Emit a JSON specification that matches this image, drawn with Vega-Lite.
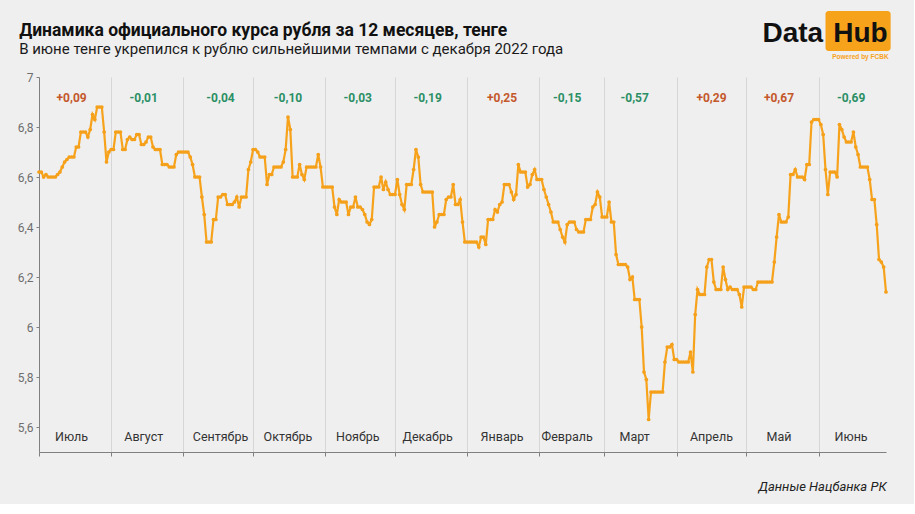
{
  "$schema": "https://vega.github.io/schema/vega-lite/v6.json",
  "width": 847,
  "height": 375,
  "padding": {"left": 17, "top": 10, "right": 23, "bottom": 10},
  "background": "#efefef",
  "title": {
    "text": "Динамика официального курса рубля за 12 месяцев, тенге",
    "subtitle": "В июне тенге укрепился к рублю сильнейшими темпами с декабря 2022 года",
    "anchor": "start",
    "frame": "bounds",
    "dx": 2,
    "dy": 46,
    "offset": 0,
    "font": "Roboto",
    "fontSize": 17.5,
    "fontWeight": "bold",
    "color": "#111111",
    "subtitleFont": "Roboto",
    "subtitleFontSize": 15,
    "subtitleColor": "#1a1a1a",
    "subtitlePadding": 3
  },
  "datasets": {
    "rate": [
      {"d": "2025-07-01", "v": 6.62}, {"d": "2025-07-02", "v": 6.62}, {"d": "2025-07-03", "v": 6.60}, {"d": "2025-07-04", "v": 6.61},
      {"d": "2025-07-05", "v": 6.60}, {"d": "2025-07-06", "v": 6.60}, {"d": "2025-07-07", "v": 6.60}, {"d": "2025-07-08", "v": 6.60},
      {"d": "2025-07-09", "v": 6.61}, {"d": "2025-07-10", "v": 6.62}, {"d": "2025-07-11", "v": 6.64}, {"d": "2025-07-12", "v": 6.66},
      {"d": "2025-07-13", "v": 6.67}, {"d": "2025-07-14", "v": 6.68}, {"d": "2025-07-15", "v": 6.68}, {"d": "2025-07-16", "v": 6.68},
      {"d": "2025-07-17", "v": 6.72}, {"d": "2025-07-18", "v": 6.72}, {"d": "2025-07-19", "v": 6.78}, {"d": "2025-07-20", "v": 6.78},
      {"d": "2025-07-21", "v": 6.78}, {"d": "2025-07-22", "v": 6.76}, {"d": "2025-07-23", "v": 6.79}, {"d": "2025-07-24", "v": 6.85},
      {"d": "2025-07-25", "v": 6.83}, {"d": "2025-07-26", "v": 6.88}, {"d": "2025-07-27", "v": 6.88}, {"d": "2025-07-28", "v": 6.88},
      {"d": "2025-07-29", "v": 6.78}, {"d": "2025-07-30", "v": 6.66}, {"d": "2025-07-31", "v": 6.70},
      {"d": "2025-08-01", "v": 6.71}, {"d": "2025-08-02", "v": 6.71}, {"d": "2025-08-03", "v": 6.78}, {"d": "2025-08-04", "v": 6.78},
      {"d": "2025-08-05", "v": 6.78}, {"d": "2025-08-06", "v": 6.71}, {"d": "2025-08-07", "v": 6.71}, {"d": "2025-08-08", "v": 6.75},
      {"d": "2025-08-09", "v": 6.76}, {"d": "2025-08-10", "v": 6.75}, {"d": "2025-08-11", "v": 6.75}, {"d": "2025-08-12", "v": 6.77},
      {"d": "2025-08-13", "v": 6.77}, {"d": "2025-08-14", "v": 6.73}, {"d": "2025-08-15", "v": 6.73}, {"d": "2025-08-16", "v": 6.74},
      {"d": "2025-08-17", "v": 6.76}, {"d": "2025-08-18", "v": 6.76}, {"d": "2025-08-19", "v": 6.72}, {"d": "2025-08-20", "v": 6.71},
      {"d": "2025-08-21", "v": 6.71}, {"d": "2025-08-22", "v": 6.71}, {"d": "2025-08-23", "v": 6.65}, {"d": "2025-08-24", "v": 6.65},
      {"d": "2025-08-25", "v": 6.65}, {"d": "2025-08-26", "v": 6.64}, {"d": "2025-08-27", "v": 6.64}, {"d": "2025-08-28", "v": 6.64},
      {"d": "2025-08-29", "v": 6.69}, {"d": "2025-08-30", "v": 6.70}, {"d": "2025-08-31", "v": 6.70},
      {"d": "2025-09-01", "v": 6.70}, {"d": "2025-09-02", "v": 6.70}, {"d": "2025-09-03", "v": 6.70}, {"d": "2025-09-04", "v": 6.68},
      {"d": "2025-09-05", "v": 6.65}, {"d": "2025-09-06", "v": 6.60}, {"d": "2025-09-07", "v": 6.60}, {"d": "2025-09-08", "v": 6.60},
      {"d": "2025-09-09", "v": 6.52}, {"d": "2025-09-10", "v": 6.45}, {"d": "2025-09-11", "v": 6.34}, {"d": "2025-09-12", "v": 6.34},
      {"d": "2025-09-13", "v": 6.34}, {"d": "2025-09-14", "v": 6.43}, {"d": "2025-09-15", "v": 6.43}, {"d": "2025-09-16", "v": 6.52},
      {"d": "2025-09-17", "v": 6.52}, {"d": "2025-09-18", "v": 6.53}, {"d": "2025-09-19", "v": 6.53}, {"d": "2025-09-20", "v": 6.49},
      {"d": "2025-09-21", "v": 6.49}, {"d": "2025-09-22", "v": 6.49}, {"d": "2025-09-23", "v": 6.50}, {"d": "2025-09-24", "v": 6.52},
      {"d": "2025-09-25", "v": 6.48}, {"d": "2025-09-26", "v": 6.52}, {"d": "2025-09-27", "v": 6.52}, {"d": "2025-09-28", "v": 6.52},
      {"d": "2025-09-29", "v": 6.63}, {"d": "2025-09-30", "v": 6.66},
      {"d": "2025-10-01", "v": 6.71}, {"d": "2025-10-02", "v": 6.71}, {"d": "2025-10-03", "v": 6.70}, {"d": "2025-10-04", "v": 6.68},
      {"d": "2025-10-05", "v": 6.68}, {"d": "2025-10-06", "v": 6.68}, {"d": "2025-10-07", "v": 6.57}, {"d": "2025-10-08", "v": 6.61},
      {"d": "2025-10-09", "v": 6.61}, {"d": "2025-10-10", "v": 6.64}, {"d": "2025-10-11", "v": 6.64}, {"d": "2025-10-12", "v": 6.64},
      {"d": "2025-10-13", "v": 6.64}, {"d": "2025-10-14", "v": 6.66}, {"d": "2025-10-15", "v": 6.71}, {"d": "2025-10-16", "v": 6.84},
      {"d": "2025-10-17", "v": 6.79}, {"d": "2025-10-18", "v": 6.60}, {"d": "2025-10-19", "v": 6.60}, {"d": "2025-10-20", "v": 6.60},
      {"d": "2025-10-21", "v": 6.65}, {"d": "2025-10-22", "v": 6.61}, {"d": "2025-10-23", "v": 6.59}, {"d": "2025-10-24", "v": 6.64},
      {"d": "2025-10-25", "v": 6.64}, {"d": "2025-10-26", "v": 6.64}, {"d": "2025-10-27", "v": 6.64}, {"d": "2025-10-28", "v": 6.64},
      {"d": "2025-10-29", "v": 6.69}, {"d": "2025-10-30", "v": 6.64}, {"d": "2025-10-31", "v": 6.56},
      {"d": "2025-11-01", "v": 6.56}, {"d": "2025-11-02", "v": 6.56}, {"d": "2025-11-03", "v": 6.56}, {"d": "2025-11-04", "v": 6.56},
      {"d": "2025-11-05", "v": 6.48}, {"d": "2025-11-06", "v": 6.45}, {"d": "2025-11-07", "v": 6.51}, {"d": "2025-11-08", "v": 6.50},
      {"d": "2025-11-09", "v": 6.50}, {"d": "2025-11-10", "v": 6.50}, {"d": "2025-11-11", "v": 6.45}, {"d": "2025-11-12", "v": 6.48},
      {"d": "2025-11-13", "v": 6.48}, {"d": "2025-11-14", "v": 6.52}, {"d": "2025-11-15", "v": 6.48}, {"d": "2025-11-16", "v": 6.48},
      {"d": "2025-11-17", "v": 6.47}, {"d": "2025-11-18", "v": 6.45}, {"d": "2025-11-19", "v": 6.42}, {"d": "2025-11-20", "v": 6.41},
      {"d": "2025-11-21", "v": 6.43}, {"d": "2025-11-22", "v": 6.56}, {"d": "2025-11-23", "v": 6.56}, {"d": "2025-11-24", "v": 6.56},
      {"d": "2025-11-25", "v": 6.60}, {"d": "2025-11-26", "v": 6.55}, {"d": "2025-11-27", "v": 6.58}, {"d": "2025-11-28", "v": 6.55},
      {"d": "2025-11-29", "v": 6.53}, {"d": "2025-11-30", "v": 6.53},
      {"d": "2025-12-01", "v": 6.53}, {"d": "2025-12-02", "v": 6.59}, {"d": "2025-12-03", "v": 6.53}, {"d": "2025-12-04", "v": 6.49},
      {"d": "2025-12-05", "v": 6.47}, {"d": "2025-12-06", "v": 6.57}, {"d": "2025-12-07", "v": 6.57}, {"d": "2025-12-08", "v": 6.57},
      {"d": "2025-12-09", "v": 6.63}, {"d": "2025-12-10", "v": 6.71}, {"d": "2025-12-11", "v": 6.68}, {"d": "2025-12-12", "v": 6.57},
      {"d": "2025-12-13", "v": 6.54}, {"d": "2025-12-14", "v": 6.54}, {"d": "2025-12-15", "v": 6.54}, {"d": "2025-12-16", "v": 6.54},
      {"d": "2025-12-17", "v": 6.54}, {"d": "2025-12-18", "v": 6.40}, {"d": "2025-12-19", "v": 6.42}, {"d": "2025-12-20", "v": 6.45},
      {"d": "2025-12-21", "v": 6.45}, {"d": "2025-12-22", "v": 6.45}, {"d": "2025-12-23", "v": 6.51}, {"d": "2025-12-24", "v": 6.52},
      {"d": "2025-12-25", "v": 6.52}, {"d": "2025-12-26", "v": 6.57}, {"d": "2025-12-27", "v": 6.49}, {"d": "2025-12-28", "v": 6.49},
      {"d": "2025-12-29", "v": 6.51}, {"d": "2025-12-30", "v": 6.42}, {"d": "2025-12-31", "v": 6.34},
      {"d": "2026-01-01", "v": 6.34}, {"d": "2026-01-02", "v": 6.34}, {"d": "2026-01-03", "v": 6.34}, {"d": "2026-01-04", "v": 6.34},
      {"d": "2026-01-05", "v": 6.34}, {"d": "2026-01-06", "v": 6.32}, {"d": "2026-01-07", "v": 6.36}, {"d": "2026-01-08", "v": 6.36},
      {"d": "2026-01-09", "v": 6.33}, {"d": "2026-01-10", "v": 6.43}, {"d": "2026-01-11", "v": 6.43}, {"d": "2026-01-12", "v": 6.43},
      {"d": "2026-01-13", "v": 6.47}, {"d": "2026-01-14", "v": 6.46}, {"d": "2026-01-15", "v": 6.49}, {"d": "2026-01-16", "v": 6.50},
      {"d": "2026-01-17", "v": 6.57}, {"d": "2026-01-18", "v": 6.57}, {"d": "2026-01-19", "v": 6.57}, {"d": "2026-01-20", "v": 6.54},
      {"d": "2026-01-21", "v": 6.51}, {"d": "2026-01-22", "v": 6.53}, {"d": "2026-01-23", "v": 6.65}, {"d": "2026-01-24", "v": 6.62},
      {"d": "2026-01-25", "v": 6.62}, {"d": "2026-01-26", "v": 6.62}, {"d": "2026-01-27", "v": 6.56}, {"d": "2026-01-28", "v": 6.57},
      {"d": "2026-01-29", "v": 6.61}, {"d": "2026-01-30", "v": 6.63}, {"d": "2026-01-31", "v": 6.59},
      {"d": "2026-02-01", "v": 6.59}, {"d": "2026-02-02", "v": 6.59}, {"d": "2026-02-03", "v": 6.55}, {"d": "2026-02-04", "v": 6.52},
      {"d": "2026-02-05", "v": 6.49}, {"d": "2026-02-06", "v": 6.46}, {"d": "2026-02-07", "v": 6.42}, {"d": "2026-02-08", "v": 6.42},
      {"d": "2026-02-09", "v": 6.42}, {"d": "2026-02-10", "v": 6.39}, {"d": "2026-02-11", "v": 6.36}, {"d": "2026-02-12", "v": 6.34},
      {"d": "2026-02-13", "v": 6.41}, {"d": "2026-02-14", "v": 6.42}, {"d": "2026-02-15", "v": 6.42}, {"d": "2026-02-16", "v": 6.42},
      {"d": "2026-02-17", "v": 6.39}, {"d": "2026-02-18", "v": 6.38}, {"d": "2026-02-19", "v": 6.38}, {"d": "2026-02-20", "v": 6.38},
      {"d": "2026-02-21", "v": 6.43}, {"d": "2026-02-22", "v": 6.43}, {"d": "2026-02-23", "v": 6.43}, {"d": "2026-02-24", "v": 6.48},
      {"d": "2026-02-25", "v": 6.49}, {"d": "2026-02-26", "v": 6.54}, {"d": "2026-02-27", "v": 6.52}, {"d": "2026-02-28", "v": 6.44},
      {"d": "2026-03-01", "v": 6.44}, {"d": "2026-03-02", "v": 6.44}, {"d": "2026-03-03", "v": 6.50}, {"d": "2026-03-04", "v": 6.42},
      {"d": "2026-03-05", "v": 6.42}, {"d": "2026-03-06", "v": 6.29}, {"d": "2026-03-07", "v": 6.25}, {"d": "2026-03-08", "v": 6.25},
      {"d": "2026-03-09", "v": 6.25}, {"d": "2026-03-10", "v": 6.25}, {"d": "2026-03-11", "v": 6.24}, {"d": "2026-03-12", "v": 6.19},
      {"d": "2026-03-13", "v": 6.20}, {"d": "2026-03-14", "v": 6.11}, {"d": "2026-03-15", "v": 6.11}, {"d": "2026-03-16", "v": 6.11},
      {"d": "2026-03-17", "v": 6.00}, {"d": "2026-03-18", "v": 5.82}, {"d": "2026-03-19", "v": 5.79}, {"d": "2026-03-20", "v": 5.63},
      {"d": "2026-03-21", "v": 5.74}, {"d": "2026-03-22", "v": 5.74}, {"d": "2026-03-23", "v": 5.74}, {"d": "2026-03-24", "v": 5.74},
      {"d": "2026-03-25", "v": 5.74}, {"d": "2026-03-26", "v": 5.74}, {"d": "2026-03-27", "v": 5.86}, {"d": "2026-03-28", "v": 5.92},
      {"d": "2026-03-29", "v": 5.92}, {"d": "2026-03-30", "v": 5.93}, {"d": "2026-03-31", "v": 5.87},
      {"d": "2026-04-01", "v": 5.87}, {"d": "2026-04-02", "v": 5.86}, {"d": "2026-04-03", "v": 5.86}, {"d": "2026-04-04", "v": 5.86},
      {"d": "2026-04-05", "v": 5.86}, {"d": "2026-04-06", "v": 5.86}, {"d": "2026-04-07", "v": 5.90}, {"d": "2026-04-08", "v": 5.82},
      {"d": "2026-04-09", "v": 6.05}, {"d": "2026-04-10", "v": 6.15}, {"d": "2026-04-11", "v": 6.13}, {"d": "2026-04-12", "v": 6.13},
      {"d": "2026-04-13", "v": 6.13}, {"d": "2026-04-14", "v": 6.24}, {"d": "2026-04-15", "v": 6.27}, {"d": "2026-04-16", "v": 6.27},
      {"d": "2026-04-17", "v": 6.18}, {"d": "2026-04-18", "v": 6.15}, {"d": "2026-04-19", "v": 6.15}, {"d": "2026-04-20", "v": 6.15},
      {"d": "2026-04-21", "v": 6.24}, {"d": "2026-04-22", "v": 6.19}, {"d": "2026-04-23", "v": 6.15}, {"d": "2026-04-24", "v": 6.16},
      {"d": "2026-04-25", "v": 6.15}, {"d": "2026-04-26", "v": 6.15}, {"d": "2026-04-27", "v": 6.15}, {"d": "2026-04-28", "v": 6.13},
      {"d": "2026-04-29", "v": 6.08}, {"d": "2026-04-30", "v": 6.16},
      {"d": "2026-05-01", "v": 6.16}, {"d": "2026-05-02", "v": 6.16}, {"d": "2026-05-03", "v": 6.16}, {"d": "2026-05-04", "v": 6.15},
      {"d": "2026-05-05", "v": 6.15}, {"d": "2026-05-06", "v": 6.18}, {"d": "2026-05-07", "v": 6.18}, {"d": "2026-05-08", "v": 6.18},
      {"d": "2026-05-09", "v": 6.18}, {"d": "2026-05-10", "v": 6.18}, {"d": "2026-05-11", "v": 6.18}, {"d": "2026-05-12", "v": 6.18},
      {"d": "2026-05-13", "v": 6.26}, {"d": "2026-05-14", "v": 6.36}, {"d": "2026-05-15", "v": 6.45}, {"d": "2026-05-16", "v": 6.42},
      {"d": "2026-05-17", "v": 6.42}, {"d": "2026-05-18", "v": 6.42}, {"d": "2026-05-19", "v": 6.44}, {"d": "2026-05-20", "v": 6.61},
      {"d": "2026-05-21", "v": 6.61}, {"d": "2026-05-22", "v": 6.63}, {"d": "2026-05-23", "v": 6.60}, {"d": "2026-05-24", "v": 6.60},
      {"d": "2026-05-25", "v": 6.60}, {"d": "2026-05-26", "v": 6.59}, {"d": "2026-05-27", "v": 6.65}, {"d": "2026-05-28", "v": 6.65},
      {"d": "2026-05-29", "v": 6.82}, {"d": "2026-05-30", "v": 6.83}, {"d": "2026-05-31", "v": 6.83},
      {"d": "2026-06-01", "v": 6.83}, {"d": "2026-06-02", "v": 6.81}, {"d": "2026-06-03", "v": 6.77}, {"d": "2026-06-04", "v": 6.63},
      {"d": "2026-06-05", "v": 6.53}, {"d": "2026-06-06", "v": 6.62}, {"d": "2026-06-07", "v": 6.62}, {"d": "2026-06-08", "v": 6.62},
      {"d": "2026-06-09", "v": 6.60}, {"d": "2026-06-10", "v": 6.81}, {"d": "2026-06-11", "v": 6.79}, {"d": "2026-06-12", "v": 6.76},
      {"d": "2026-06-13", "v": 6.74}, {"d": "2026-06-14", "v": 6.74}, {"d": "2026-06-15", "v": 6.74}, {"d": "2026-06-16", "v": 6.78},
      {"d": "2026-06-17", "v": 6.72}, {"d": "2026-06-18", "v": 6.69}, {"d": "2026-06-19", "v": 6.64}, {"d": "2026-06-20", "v": 6.64},
      {"d": "2026-06-21", "v": 6.64}, {"d": "2026-06-22", "v": 6.64}, {"d": "2026-06-23", "v": 6.59}, {"d": "2026-06-24", "v": 6.51},
      {"d": "2026-06-25", "v": 6.51}, {"d": "2026-06-26", "v": 6.41}, {"d": "2026-06-27", "v": 6.27}, {"d": "2026-06-28", "v": 6.26},
      {"d": "2026-06-29", "v": 6.24}, {"d": "2026-06-30", "v": 6.14}
    ],
    "months": [
      {"m": "Июль", "mid": "2025-07-15", "ch": "+0,09", "dir": "up"},
      {"m": "Август", "mid": "2025-08-15", "ch": "-0,01", "dir": "down"},
      {"m": "Сентябрь", "mid": "2025-09-17", "ch": "-0,04", "dir": "down"},
      {"m": "Октябрь", "mid": "2025-10-16", "ch": "-0,10", "dir": "down"},
      {"m": "Ноябрь", "mid": "2025-11-15", "ch": "-0,03", "dir": "down"},
      {"m": "Декабрь", "mid": "2025-12-15", "ch": "-0,19", "dir": "down"},
      {"m": "Январь", "mid": "2026-01-16", "ch": "+0,25", "dir": "up"},
      {"m": "Февраль", "mid": "2026-02-13", "ch": "-0,15", "dir": "down"},
      {"m": "Март", "mid": "2026-03-14", "ch": "-0,57", "dir": "down"},
      {"m": "Апрель", "mid": "2026-04-16", "ch": "+0,29", "dir": "up"},
      {"m": "Май", "mid": "2026-05-15", "ch": "+0,67", "dir": "up"},
      {"m": "Июнь", "mid": "2026-06-15", "ch": "-0,69", "dir": "down"}
    ]
  },
  "layer": [
    {
      "data": {"name": "rate"},
      "mark": {
        "type": "line",
        "color": "#f7a21b",
        "strokeWidth": 2.2,
        "point": {"filled": true, "size": 14, "color": "#f5a01a"}
      },
      "encoding": {
        "x": {
          "field": "d",
          "type": "temporal",
          "title": "Данные Нацбанка РК",
          "scale": {"domain": [{"year": 2025, "month": 7, "date": 1}, {"year": 2026, "month": 6, "date": 30}], "nice": false},
          "axis": {
            "labels": false,
            "tickCount": {"interval": "month", "step": 1},
            "grid": true,
            "gridColor": "#d6d6d6",
            "gridWidth": 1,
            "domainColor": "#808080",
            "tickColor": "#808080",
            "tickSize": 4,
            "titleAnchor": "end",
            "titleFont": "Roboto",
            "titleFontSize": 13,
            "titleFontStyle": "italic",
            "titleFontWeight": "normal",
            "titleColor": "#222222",
            "titlePadding": 24
          }
        },
        "y": {
          "field": "v",
          "type": "quantitative",
          "title": null,
          "scale": {"domain": [5.5, 7], "nice": false, "zero": false},
          "axis": {
            "values": [5.6, 5.8, 6, 6.2, 6.4, 6.6, 6.8, 7],
            "labelExpr": "replace(format(datum.value, '.1~f'), '.', ',')",
            "grid": false,
            "domainColor": "#808080",
            "tickColor": "#808080",
            "tickSize": 3,
            "labelColor": "#6e6e6e",
            "labelFont": "Roboto",
            "labelFontSize": 12,
            "labelPadding": 3
          }
        }
      }
    },
    {
      "data": {"name": "months"},
      "mark": {"type": "text", "font": "Roboto", "fontSize": 12.5, "color": "#333333", "baseline": "middle"},
      "encoding": {
        "x": {"field": "mid", "type": "temporal", "title": "Данные Нацбанка РК",
              "scale": {"domain": [{"year": 2025, "month": 7, "date": 1}, {"year": 2026, "month": 6, "date": 30}], "nice": false}},
        "y": {"datum": 5.56, "title": null, "scale": {"domain": [5.5, 7], "nice": false, "zero": false}},
        "text": {"field": "m"}
      }
    },
    {
      "data": {"name": "months"},
      "mark": {"type": "text", "font": "Roboto", "fontSize": 12, "fontWeight": "bold", "baseline": "middle"},
      "encoding": {
        "x": {"field": "mid", "type": "temporal", "title": "Данные Нацбанка РК",
              "scale": {"domain": [{"year": 2025, "month": 7, "date": 1}, {"year": 2026, "month": 6, "date": 30}], "nice": false}},
        "y": {"datum": 6.916, "title": null, "scale": {"domain": [5.5, 7], "nice": false, "zero": false}},
        "text": {"field": "ch"},
        "color": {"field": "dir", "type": "nominal", "legend": null,
                  "scale": {"domain": ["up", "down"], "range": ["#c4582b", "#2b8f66"]}}
      }
    },
    {
      "data": {"values": [{}]},
      "mark": {"type": "rect", "color": "#f7a21b", "cornerRadius": 3},
      "encoding": {
        "x": {"datum": {"year": 2026, "month": 6, "date": 4}, "type": "temporal", "title": "Данные Нацбанка РК"},
        "x2": {"datum": {"year": 2026, "month": 7, "date": 2}},
        "y": {"datum": 7.264, "type": "quantitative", "title": null},
        "y2": {"datum": 7.104}
      }
    },
    {
      "data": {"values": [{}]},
      "mark": {"type": "text", "font": "Liberation Sans", "fontSize": 28, "fontWeight": "bold", "color": "#111111", "align": "right", "baseline": "alphabetic"},
      "encoding": {
        "x": {"datum": {"year": 2026, "month": 6, "date": 3}, "type": "temporal", "title": "Данные Нацбанка РК"},
        "y": {"datum": 7.14, "type": "quantitative", "title": null},
        "text": {"value": "Data"}
      }
    },
    {
      "data": {"values": [{}]},
      "mark": {"type": "text", "font": "Liberation Sans", "fontSize": 28, "fontWeight": "bold", "color": "#111111", "align": "center", "baseline": "alphabetic"},
      "encoding": {
        "x": {"datum": {"year": 2026, "month": 6, "date": 19}, "type": "temporal", "title": "Данные Нацбанка РК"},
        "y": {"datum": 7.14, "type": "quantitative", "title": null},
        "text": {"value": "Hub"}
      }
    },
    {
      "data": {"values": [{}]},
      "mark": {"type": "text", "font": "Liberation Sans", "fontSize": 6.5, "fontWeight": "bold", "color": "#f7a21b", "align": "center", "baseline": "middle"},
      "encoding": {
        "x": {"datum": {"year": 2026, "month": 6, "date": 19}, "type": "temporal", "title": "Данные Нацбанка РК"},
        "y": {"datum": 7.08, "type": "quantitative", "title": null},
        "text": {"value": "Powered by FCBK"}
      }
    }
  ],
  "config": {
    "view": {"stroke": null},
    "font": "Roboto"
  }
}
